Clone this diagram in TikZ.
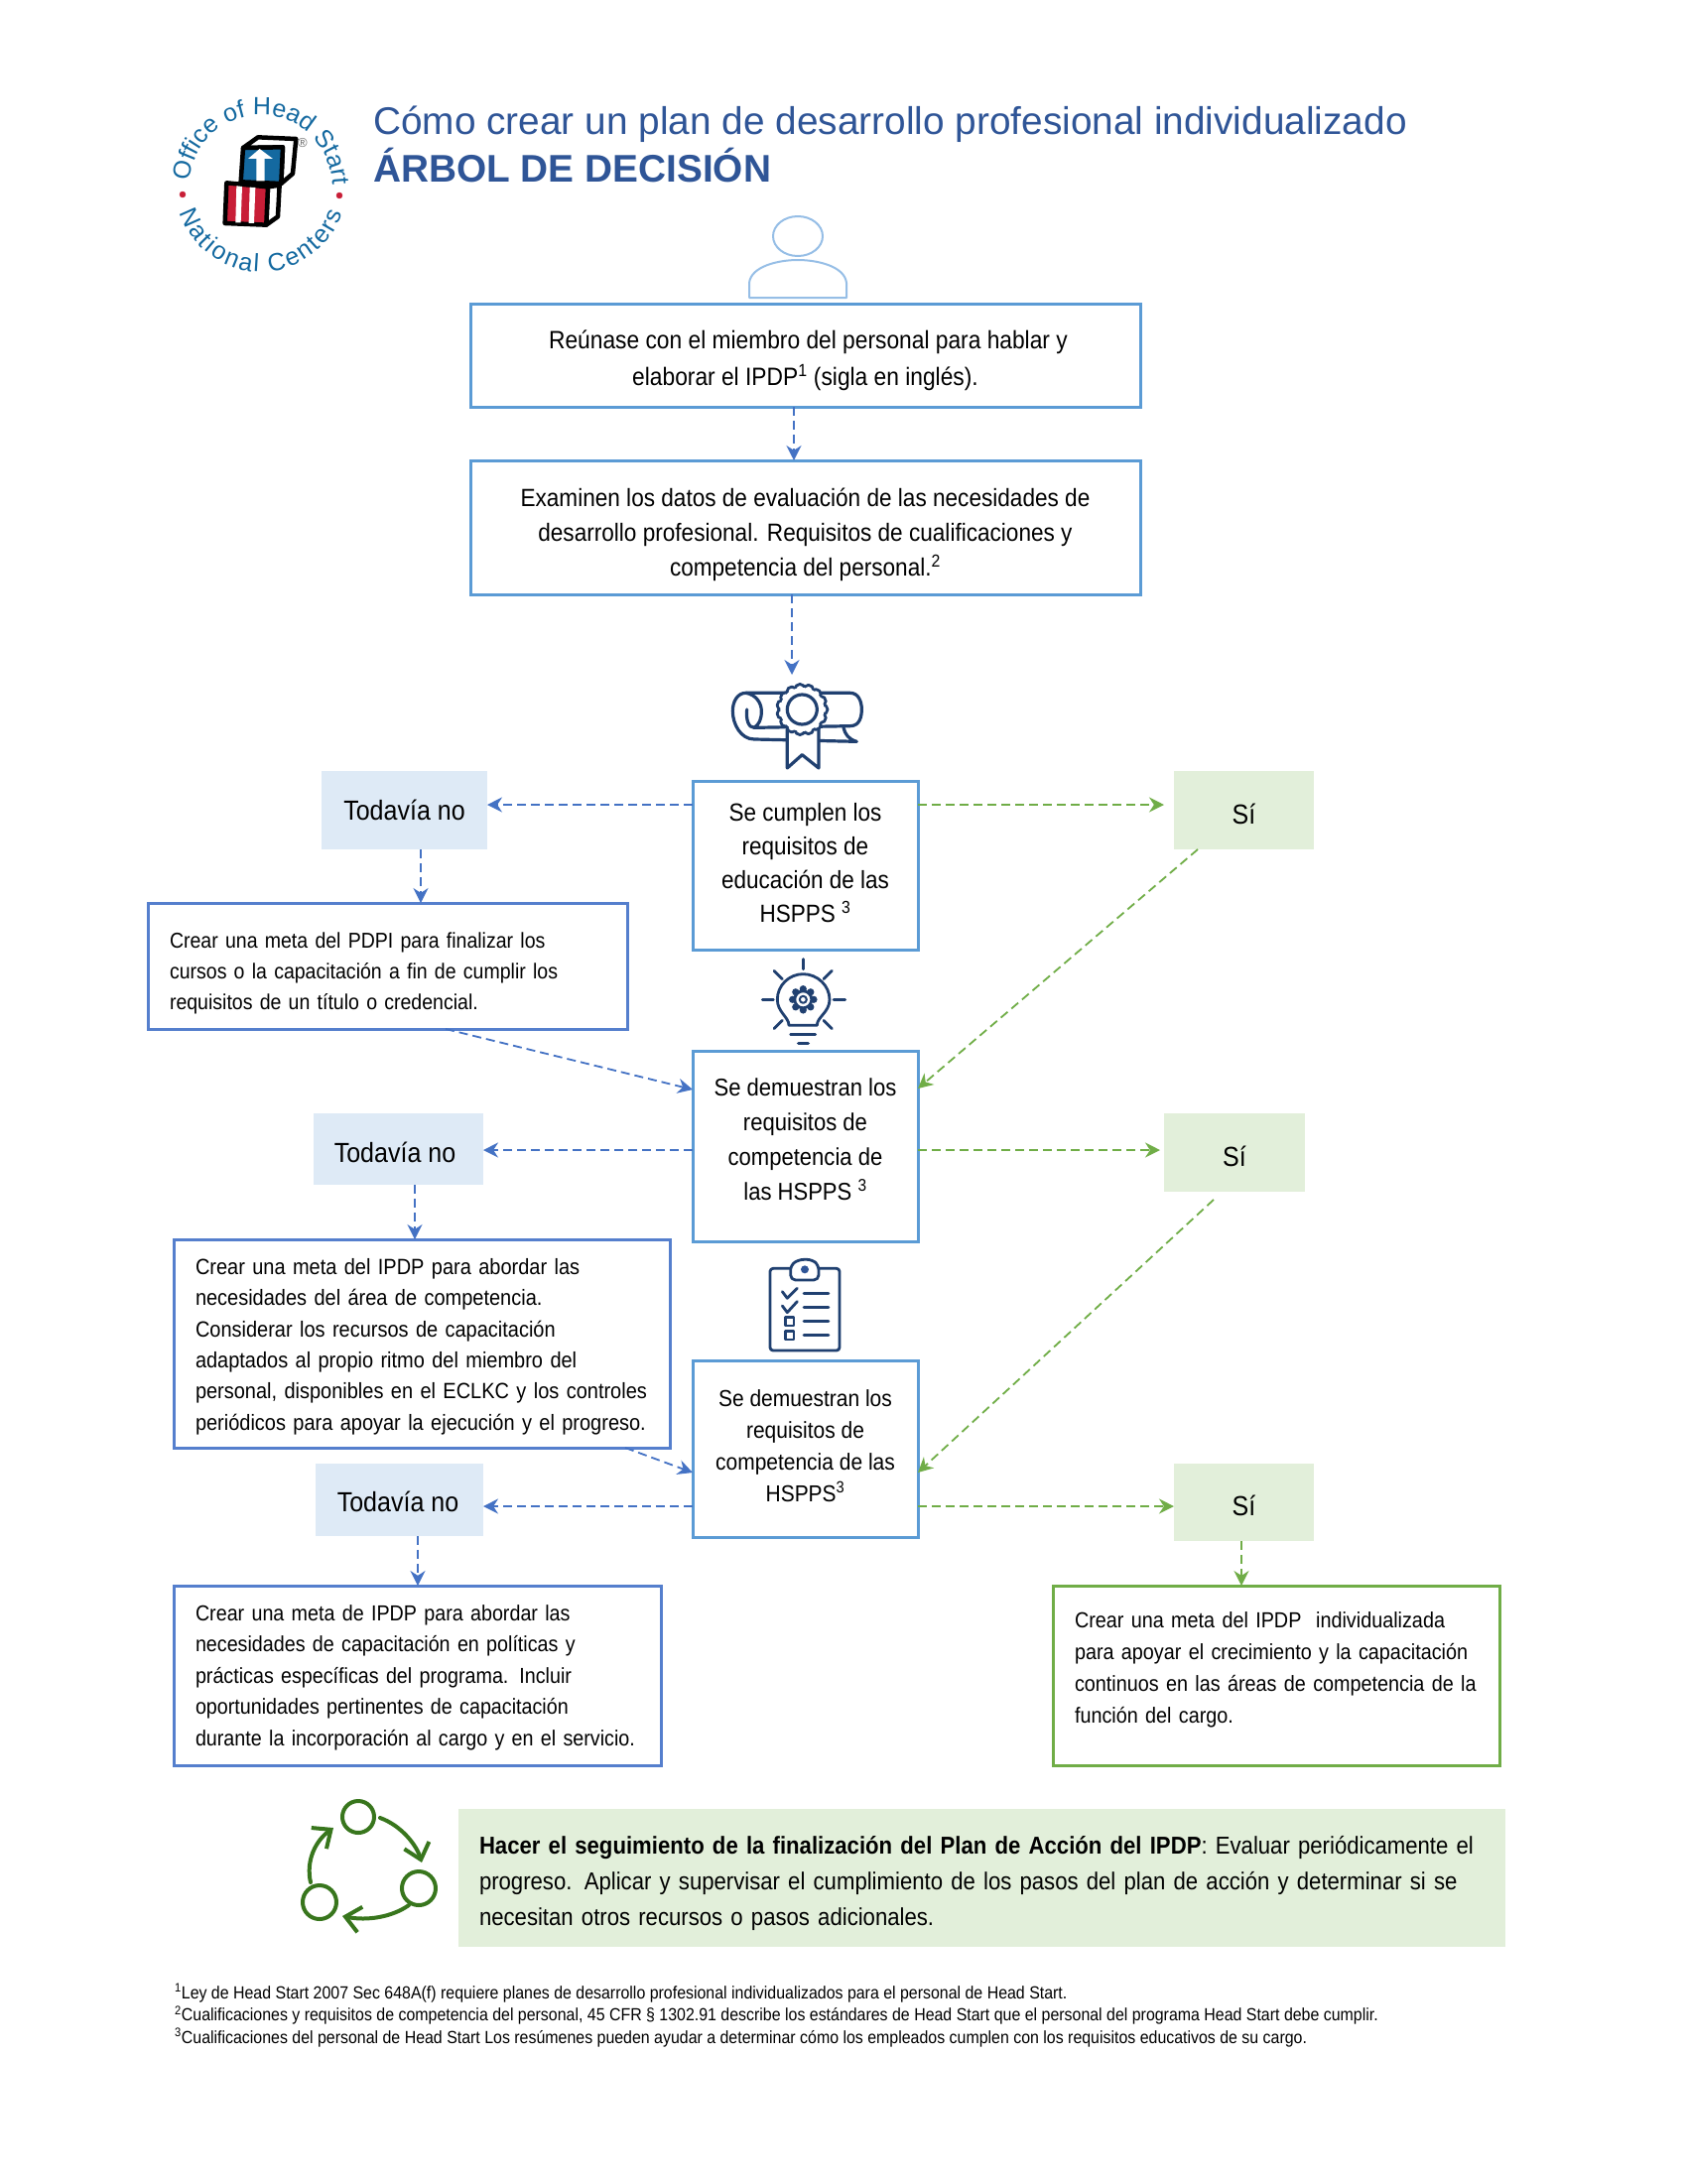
\documentclass[tikz,border=0pt]{standalone}
\usepackage{fontspec}
\setmainfont{Liberation Sans}
\newfontfamily\boxfont[FakeStretch=0.9]{Liberation Sans}
\usetikzlibrary{arrows.meta,positioning,decorations.text}
\definecolor{ipblue}{RGB}{91,155,213}
\definecolor{ipdeep}{RGB}{85,127,205}
\definecolor{iparrow}{RGB}{68,114,196}
\definecolor{ipgreen}{RGB}{112,173,71}
\definecolor{iplightblue}{RGB}{222,234,246}
\definecolor{iplightgreen}{RGB}{226,239,218}
\definecolor{iptitle}{RGB}{47,85,151}
\definecolor{ipnavy}{RGB}{32,64,112}
\definecolor{ipcycle}{RGB}{56,118,29}
\definecolor{ipperson}{RGB}{150,190,230}
\definecolor{logoteal}{RGB}{20,105,160}
\definecolor{logored}{RGB}{200,30,55}
\newcommand{\fsz}[2]{\fontsize{#1}{#2}\selectfont}
\newcommand{\pushdown}[1]{\rule{0pt}{#1}}
\newcommand{\pushup}[1]{\rule[-#1]{0pt}{#1}}
\tikzset{
  stepbox/.style = {rectangle, draw=ipblue, line width=3pt, inner sep=0pt, outer sep=0pt, text centered, align=center, fill=white},
  goalbox/.style = {rectangle, draw=ipdeep, line width=3pt, inner xsep=22pt, inner ysep=0pt, outer sep=0pt, align=left, fill=white},
  nobox/.style = {rectangle, fill=iplightblue, inner sep=0pt, outer sep=0pt, font={\boxfont\fsz{27.8}{32}}},
  yesbox/.style = {rectangle, fill=iplightgreen, inner sep=0pt, outer sep=0pt, font={\boxfont\fsz{27.8}{32}}},
  noarrow/.style = {line width=1.8pt, draw=iparrow, dash pattern=on 9pt off 5pt, -{Stealth[length=15pt,width=15pt]}},
  yesarrow/.style = {line width=1.8pt, draw=ipgreen, dash pattern=on 9pt off 5pt, -{Stealth[length=15pt,width=15pt]}},
  icon/.style = {draw=ipnavy, line width=2.8pt, line cap=round, line join=round}
}
\begin{document}
\begin{tikzpicture}[x=1pt, y=1pt, node distance=170pt]
\useasboundingbox (0,0) rectangle (1700,-2201);

% Logo
\draw[logored, fill=logored] (184,-196) circle[radius=3pt] (342,-197) circle[radius=3pt];
\path[postaction={decorate, decoration={text along path, text align=fit to path,
    text={|\fsz{25}{25}\color{logoteal}|Office of Head Start}}}]
    (263,-188) ++(176:72pt) arc[start angle=176, end angle=2, radius=72pt];
\path[postaction={decorate, decoration={text along path, text align=fit to path,
    text={|\fsz{25}{25}\color{logoteal}|National Centers}}}]
    (263,-188) ++(198:86pt) arc[start angle=198, end angle=342, radius=86pt];
\begin{scope}[shift={(170,-95)}, x=0.3333pt, y=-0.3333pt, draw=black, line width=4.5pt, line join=round]
  \draw[fill=white] (225,162) -- (270,130) -- (385,135) -- (375,240) -- (340,270) -- (345,160) -- cycle;
  \draw[fill=logoteal] (225,162) -- (345,160) -- (340,270) -- (218,265) -- cycle;
  \fill[white] (265,262) -- (290,262) -- (290,195) -- (315,195) -- (275,165) -- (240,195) -- (265,195) -- cycle;
  \draw[fill=white] (300,280) -- (335,275) -- (330,370) -- (295,395) -- cycle;
  \draw[fill=logored] (175,268) -- (300,280) -- (295,395) -- (170,390) -- cycle;
  \fill[white] (205,277) -- (222,279) -- (218,388) -- (202,388) -- cycle;
  \fill[white] (245,281) -- (262,282) -- (258,390) -- (242,390) -- cycle;
\end{scope}
\node (regmark) at (305,-144) {\fsz{13}{13}\color{gray!80!black}®};

% Title
\node (titlea) [anchor=base west, inner sep=0pt, text=iptitle] at (376,-135) {\fsz{38.8}{40}Cómo crear un plan de desarrollo profesional individualizado};
\node (titleb) [anchor=base west, inner sep=0pt, text=iptitle] at (376,-183) {\fsz{38.8}{40}\bfseries ÁRBOL DE DECISIÓN};

% Person
\draw[ipperson, line width=2pt] (804,-238) ellipse[x radius=25pt, y radius=20pt];
\draw[ipperson, line width=2pt, line join=round] (755,-300) -- (755,-285) .. controls (757,-268) and (785,-262) .. (804,-262)
   .. controls (823,-262) and (851,-268) .. (853,-285) -- (853,-300) -- cycle;

% Central column
\node (intro) [stepbox, minimum width=675pt, minimum height=104pt, font={\boxfont\fsz{25.3}{36.5}}] at (811.5,-358)
  {\pushdown{29pt}\hspace*{6pt}Reúnase con el miembro del personal para hablar y\\elaborar el IPDP\textsuperscript{1} (sigla en inglés).};
\node (exam) [stepbox, below of=intro, node distance=173.5pt, minimum width=675pt, minimum height=135pt, font={\boxfont\fsz{25.1}{35}}]
  {\pushdown{34pt}Examinen los datos de evaluación de las necesidades de\\desarrollo profesional. Requisitos de cualificaciones y\\competencia del personal.\textsuperscript{2}};
\node (edu) [stepbox, below of=exam, node distance=340.5pt, minimum width=227pt, minimum height=170pt, font={\boxfont\fsz{25}{34}}]
  {Se cumplen los\\requisitos de\\educación de las\\HSPPS \textsuperscript{3}\pushup{6pt}};
\node (compa) [stepbox, below of=edu, node distance=283pt, minimum width=227pt, minimum height=192pt, font={\boxfont\fsz{24.5}{35}}]
  {Se demuestran los\\requisitos de\\competencia de\\las HSPPS \textsuperscript{3}\pushup{14pt}};
\node (compb) [stepbox, below of=compa, node distance=305pt, minimum width=227pt, minimum height=178pt, font={\boxfont\fsz{23.3}{32}}]
  {Se demuestran los\\requisitos de\\competencia de las\\HSPPS\textsuperscript{3}\pushup{6pt}};

% Not yet
\node (noa) [nobox, left of=edu, node distance=404pt, yshift=55.5pt, minimum width=167pt, minimum height=79pt] {Todavía no};
\node (nob) [nobox, left of=compa, node distance=410pt, minimum width=171pt, minimum height=72pt, yshift=-3pt] {\pushdown{27pt}Todavía no\hspace*{7pt}};
\node (noc) [nobox, left of=compb, node distance=409pt, minimum width=169pt, minimum height=73pt, yshift=-51.5pt] {\pushdown{25pt}Todavía no\hspace*{3pt}};

% Yes
\node (yesa) [yesbox, right of=edu, node distance=442pt, yshift=55.5pt, minimum width=141pt, minimum height=79pt] {\pushdown{28pt}Sí};
\node (yesb) [yesbox, right of=compa, node distance=432.5pt, yshift=-6.5pt, minimum width=142pt, minimum height=79pt] {\pushdown{28pt}Sí};
\node (yesc) [yesbox, right of=compb, node distance=442pt, yshift=-54pt, minimum width=141pt, minimum height=78pt] {\pushdown{28pt}Sí};

% Goals
\node (goala) [goalbox, below of=noa, node distance=157pt, xshift=-17pt, minimum height=127pt, text width=439pt, font={\boxfont\fsz{21.7}{31}}]
  {\pushdown{30pt}Crear una meta del PDPI para finalizar los\\cursos o la capacitación a fin de cumplir los\\requisitos de un título o credencial.};
\node (goalb) [goalbox, below of=nob, node distance=196pt, xshift=23.5pt, minimum height=210pt, text width=456pt, font={\boxfont\fsz{22.2}{31.4}}]
  {\pushdown{22pt}Crear una meta del IPDP para abordar las\\necesidades del área de competencia.\\Considerar los recursos de capacitación\\adaptados al propio ritmo del miembro del\\personal, disponibles en el ECLKC y los controles\\periódicos para apoyar la ejecución y el progreso.};
\node (goalc) [goalbox, below of=noc, node distance=177pt, xshift=18pt, minimum height=181pt, text width=447pt, font={\boxfont\fsz{21.9}{31.5}}]
  {\pushdown{20pt}Crear una meta de IPDP para abordar las\\necesidades de capacitación en políticas y\\prácticas específicas del programa. Incluir\\oportunidades pertinentes de capacitación\\durante la incorporación al cargo y en el servicio.};
\node (goald) [goalbox, draw=ipgreen, below of=yesc, node distance=174.5pt, xshift=32.5pt, minimum height=181pt, text width=406pt, font={\boxfont\fsz{22}{32}}]
  {Crear una meta del IPDP\ \ individualizada\\para apoyar el crecimiento y la capacitación\\continuos en las áreas de competencia de la\\función del cargo.\pushup{16pt}};

% Banner
\node (track) [rectangle, fill=iplightgreen, inner xsep=21pt, inner ysep=0pt, minimum height=139pt, text width=1013pt, align=left, font={\boxfont\fsz{24.6}{36}}] at (989.5,-1892.5)
  {\pushdown{29pt}\textbf{Hacer el seguimiento de la finalización del Plan de Acción del IPDP}: Evaluar periódicamente el\\progreso. Aplicar y supervisar el cumplimiento de los pasos del plan de acción y determinar si se\\necesitan otros recursos o pasos adicionales.};

% Footnotes
\node (notes) [anchor=north west, inner sep=0pt, align=left, font={\boxfont\fsz{17.7}{22.5}}] at (176,-1999)
  {\textsuperscript{1}Ley de Head Start 2007 Sec 648A(f) requiere planes de desarrollo profesional individualizados para el personal de Head Start.\\
   \textsuperscript{2}Cualificaciones y requisitos de competencia del personal, 45 CFR § 1302.91 describe los estándares de Head Start que el personal del programa Head Start debe cumplir.\\
   \textsuperscript{3}Cualificaciones del personal de Head Start Los resúmenes pueden ayudar a determinar cómo los empleados cumplen con los requisitos educativos de su cargo.};

% Diploma
\begin{scope}[shift={(680,-650)}, x=0.3333pt, y=-0.3333pt]
  \draw[icon, line width=3.2pt] (530,245) .. controls (560,245) and (565,215) .. (565,195) .. controls (565,170) and (555,145) .. (530,145) -- (215,145)
     .. controls (190,145) and (175,170) .. (175,200) .. controls (175,240) and (200,285) .. (240,285) -- (550,292) .. controls (525,285) and (515,270) .. (510,250);
  \draw[icon, line width=3.2pt] (215,145) .. controls (245,150) and (262,175) .. (262,200) .. controls (262,225) and (255,240) .. (240,250) -- (530,245);
  \draw[icon, line width=3.2pt] (240,250) .. controls (222,250) and (215,225) .. (218,195);
  \draw[icon, line width=3.2pt, fill=white] (340,255) -- (340,372) -- (385,332) -- (435,372) -- (435,255);
  \foreach \ang in {0,24,...,336} \draw[icon, fill=white] (385,195) ++(\ang:62) circle[radius=5pt];
  \fill[white] (385,195) circle[radius=22pt];
  \draw[icon, line width=3.2pt] (385,195) circle[radius=15pt];
\end{scope}

% Bulb
\begin{scope}[shift={(680,-650)}, x=0.3333pt, y=-0.3333pt]
  \foreach \ax/\ay/\bx/\by in {388/950/388/980, 300/985/325/1010, 475/985/450/1010, 265/1072/298/1072, 480/1072/515/1072, 300/1160/325/1135, 475/1160/450/1135}
    \draw[icon] (\ax,\ay) -- (\bx,\by);
  \draw[icon] (345,1150) .. controls (345,1125) and (310,1110) .. (310,1072) .. controls (310,1030) and (345,995) .. (388,995)
     .. controls (431,995) and (468,1030) .. (468,1072) .. controls (468,1110) and (430,1125) .. (430,1150) -- cycle;
  \draw[icon] (350,1178) -- (425,1178);
  \draw[icon, line width=3.5pt] (374,1205) -- (403,1205);
  \foreach \ang in {0,45,...,315} \fill[ipnavy] (388,1072) ++(\ang:32) circle[radius=3.6pt];
  \draw[icon, fill=white] (388,1072) circle[radius=8.5pt];
  \draw[icon, line width=2pt] (388,1072) circle[radius=3.5pt];
\end{scope}

% Clipboard
\begin{scope}[shift={(740,-1240)}, x=0.3333pt, y=-0.3333pt]
  \draw[icon, rounded corners=3pt] (170,115) -- (108,115) -- (108,363) -- (318,363) -- (318,115) -- (255,115);
  \draw[icon, rounded corners=5pt] (170,150) -- (170,105) -- (195,88) -- (235,88) -- (255,105) -- (255,150) -- cycle;
  \fill[iptitle] (213,118) circle[radius=4pt];
  \draw[icon] (145,185) -- (160,205) -- (190,175);
  \draw[icon] (145,228) -- (160,248) -- (190,215);
  \draw[icon] (155,263) rectangle (180,288);
  \draw[icon] (155,305) rectangle (180,330);
  \foreach \ly in {190,232,275,317} \draw[icon] (210,\ly) -- (285,\ly);
\end{scope}

% Cycle
\begin{scope}[ipcycle, line width=4pt, line cap=round]
  \draw (361,-1831) circle[radius=16pt];
  \draw (422,-1903) circle[radius=17pt];
  \draw (322,-1917) circle[radius=17pt];
  \draw[-{Straight Barb[length=15pt,width=26pt]}] (383,-1832) .. controls (405,-1840) and (420,-1860) .. (425,-1877);
  \draw[-{Straight Barb[length=15pt,width=26pt]}] (412,-1920) .. controls (395,-1932) and (370,-1936) .. (345,-1931);
  \draw[-{Straight Barb[length=15pt,width=26pt]}] (313,-1897) .. controls (308,-1875) and (318,-1855) .. (336,-1842);
\end{scope}

% Connections
\draw[noarrow] (intro.south -| 800,0) -- (exam.north -| 800,0);
\draw[noarrow] (exam.south -| 798,0) -- (798,-680);
\draw[noarrow] ([yshift=-24pt]edu.north west) -- ([yshift=5.5pt]noa.east);
\draw[yesarrow] ([yshift=-24pt]edu.north east) -- ([xshift=-10pt,yshift=5.5pt]yesa.west);
\draw[noarrow] (noa.south -| 424,0) -- (goala.north -| 424,0);
\draw[noarrow] (449,-1037) -- ([yshift=57pt]compa.west);
\draw[yesarrow] (yesa.south -| 1207,0) -- ([yshift=58pt]compa.east);
\draw[noarrow] ([yshift=-100pt]compa.north west) -- ([yshift=-1pt]nob.east);
\draw[yesarrow] ([yshift=-100pt]compa.north east) -- ([xshift=-4pt,yshift=2.5pt]yesb.west);
\draw[noarrow] (nob.south -| 418,0) -- (goalb.north -| 418,0);
\draw[noarrow] (630,-1459) -- ([yshift=-24pt]compb.west);
\draw[yesarrow] (1223,-1209) -- ([yshift=-24pt]compb.east);
\draw[noarrow] ([yshift=-147pt]compb.north west) -- ([yshift=-6.5pt]noc.east);
\draw[yesarrow] ([yshift=-147pt]compb.north east) -- ([yshift=-4pt]yesc.west);
\draw[noarrow] (noc.south -| 421,0) -- (goalc.north -| 421,0);
\draw[yesarrow] (yesc.south -| 1251,0) -- (goald.north -| 1251,0);
\end{tikzpicture}
\end{document}
